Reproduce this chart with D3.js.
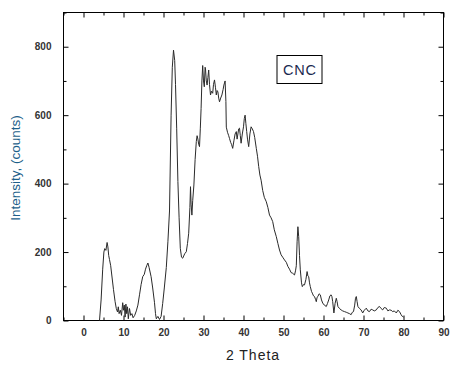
<!DOCTYPE html>
<html>
<head>
<meta charset="utf-8">
<script src="https://cdn.jsdelivr.net/npm/d3@7"></script>
<style>
  html, body { margin: 0; padding: 0; background: #fff; }
  #chart { width: 450px; height: 365px; }
  text { font-family: "Liberation Sans", Arial, sans-serif; }
</style>
</head>
<body>
<div id="chart"></div>
<script>
// XRD pattern
const twoTheta = [4.0,4.4,4.8,5.1,5.3,5.6,5.9,6.1,6.3,6.5,6.8,7.1,7.5,7.9,8.2,8.5,8.7,8.9,9.2,9.5,9.8,10.0,10.2,10.4,10.6,10.8,11.0,11.2,11.5,11.8,12.1,12.4,12.8,13.2,13.6,14.0,14.4,14.8,15.2,15.5,15.8,16.1,16.4,16.9,17.3,17.75,18.0,18.2,18.6,19.0,19.4,19.8,20.2,20.7,21.1,21.5,21.9,22.2,22.5,22.8,23.0,23.3,23.6,23.9,24.2,24.5,24.8,25.3,25.7,26.0,26.3,26.6,26.75,26.9,27.1,27.3,27.6,27.9,28.2,28.4,28.6,28.8,29.0,29.2,29.4,29.6,29.8,30.0,30.2,30.4,30.5,30.7,30.9,31.1,31.3,31.5,31.75,32.0,32.3,32.5,32.75,33.0,33.2,33.4,33.6,33.8,34.0,34.3,34.6,34.9,35.1,35.4,35.6,35.7,36.0,36.3,36.5,36.8,37.0,37.3,37.6,37.9,38.2,38.4,38.6,38.8,39.0,39.2,39.4,39.7,40.0,40.2,40.4,40.6,40.8,41.0,41.3,41.6,41.9,42.2,42.5,42.8,43.2,43.5,43.8,44.1,44.4,44.8,45.2,45.7,46.1,46.5,46.9,47.3,47.7,48.2,48.6,49.0,49.4,49.8,50.25,50.7,51.1,51.5,51.9,52.3,52.75,53.0,53.2,53.4,53.6,53.8,54.0,54.2,54.5,54.7,55.0,55.25,55.6,55.9,56.1,56.3,56.5,56.7,57.0,57.2,57.5,57.75,58.0,58.2,58.4,58.6,58.9,59.2,59.5,59.8,60.2,60.7,61.0,61.3,61.6,61.9,62.1,62.3,62.6,62.9,63.2,63.4,63.6,64.0,64.4,64.8,65.25,65.7,66.1,66.5,66.9,67.2,67.5,67.8,68.0,68.2,68.4,68.6,69.0,69.4,69.8,70.2,70.7,71.1,71.5,71.9,72.3,72.7,73.2,73.6,74.0,74.4,74.8,75.2,75.7,76.1,76.5,76.9,77.3,77.7,78.2,78.6,79.0,79.4,79.7,80.0];
const counts = [0,60,150,200,210,205,228,215,190,178,160,130,90,55,35,25,40,20,30,15,52,30,45,10,48,20,40,5,35,15,20,8,15,28,45,75,105,128,135,150,160,168,155,128,95,52,20,5,12,3,12,50,95,155,230,320,600,740,790,760,690,560,406,300,211,185,182,195,201,225,255,330,391,340,308,350,396,470,523,540,530,515,508,560,620,700,745,700,683,740,735,700,688,710,732,690,659,670,664,690,703,680,659,672,668,650,639,650,659,675,688,700,640,565,550,540,532,520,515,503,525,545,552,530,545,560,562,540,518,545,566,590,600,575,552,530,508,545,566,560,552,535,503,480,450,425,410,380,360,347,330,308,300,289,265,245,225,206,192,185,177,170,158,150,140,138,133,145,160,230,274,245,190,148,110,99,105,104,120,143,130,128,110,99,85,80,72,70,62,55,68,70,78,75,60,51,45,41,50,60,72,75,70,55,22,50,65,55,41,35,31,28,26,24,22,20,17,24,26,45,65,70,55,41,35,31,22,30,36,28,26,33,31,28,31,38,41,35,31,38,36,28,31,30,26,28,22,30,26,17,12,10];

const xMajor = [0,10,20,30,40,50,60,70,80,90];
const xMinor = [-5,5,15,25,35,45,55,65,75,85];
const yMajor = [0,200,400,600,800];
const yMinor = [100,300,500,700,900];

const sampleLabel = 'CNC';
const xTitle = '2 Theta';
const yTitle = 'Intensity, (counts)';

const W = 450, H = 365;
const margin = { top: 12.5, right: 6.5, bottom: 44.5, left: 63.5 };
const width = W - margin.left - margin.right;
const height = H - margin.top - margin.bottom;

const svg = d3.select('#chart').append('svg')
    .attr('width', W)
    .attr('height', H);

const g = svg.append('g')
    .attr('transform', `translate(${margin.left},${margin.top})`);

const x = d3.scaleLinear().domain([-5, 90]).range([0, width]);
const y = d3.scaleLinear().domain([0, 900]).range([height, 0]);

// axes, ticks pointing inside the frame
function styleAxis(sel) {
    sel.select('.domain').remove();
    sel.selectAll('line').attr('stroke', '#000');
    sel.selectAll('text')
        .style('font-size', '10px')
        .style('font-weight', 'bold')
        .attr('fill', '#333');
}

g.append('g')
    .attr('transform', `translate(0,${height})`)
    .call(d3.axisBottom(x).tickValues(xMajor).tickSize(-5).tickPadding(8).tickFormat(d3.format('d')))
    .call(styleAxis);
g.append('g')
    .attr('transform', `translate(0,${height})`)
    .call(d3.axisBottom(x).tickValues(xMinor).tickSize(-3).tickFormat(''))
    .call(styleAxis);
g.append('g')
    .call(d3.axisTop(x).tickValues(xMajor).tickSize(-5).tickFormat(''))
    .call(styleAxis);
g.append('g')
    .call(d3.axisTop(x).tickValues(xMinor).tickSize(-3).tickFormat(''))
    .call(styleAxis);

g.append('g')
    .call(d3.axisLeft(y).tickValues(yMajor).tickSize(-5).tickPadding(12).tickFormat(d3.format('d')))
    .call(styleAxis);
g.append('g')
    .call(d3.axisLeft(y).tickValues(yMinor).tickSize(-3).tickFormat(''))
    .call(styleAxis);
g.append('g')
    .attr('transform', `translate(${width},0)`)
    .call(d3.axisRight(y).tickValues(yMajor).tickSize(-5).tickFormat(''))
    .call(styleAxis);
g.append('g')
    .attr('transform', `translate(${width},0)`)
    .call(d3.axisRight(y).tickValues(yMinor).tickSize(-3).tickFormat(''))
    .call(styleAxis);

// frame
g.append('rect')
    .attr('x', 0).attr('y', 0)
    .attr('width', width).attr('height', height)
    .attr('fill', 'none')
    .attr('stroke', '#000')
    .attr('stroke-width', 1);

// pattern
const pts = twoTheta.map((t, i) => ({ t: t, c: counts[i] }));
const line = d3.line()
    .x(d => x(d.t))
    .y(d => y(d.c));

g.append('path')
    .datum(pts)
    .attr('d', line)
    .attr('fill', 'none')
    .attr('stroke', '#2a2a2a')
    .attr('stroke-width', 1)
    .attr('stroke-linejoin', 'round');

// sample label box
const box = g.append('g').attr('transform', `translate(${277 - margin.left},${55.5 - margin.top})`);
box.append('rect')
    .attr('width', 45).attr('height', 28)
    .attr('fill', '#fff')
    .attr('stroke', '#000');
box.append('text')
    .attr('x', 23).attr('y', 19.5)
    .attr('text-anchor', 'middle')
    .style('font-size', '14.5px')
    .style('letter-spacing', '0.8px')
    .attr('fill', '#1c2a50')
    .text(sampleLabel);

// axis titles
svg.append('text')
    .attr('x', 253)
    .attr('y', 360)
    .attr('text-anchor', 'middle')
    .style('font-size', '14px')
    .style('letter-spacing', '1px')
    .attr('fill', '#222')
    .text(xTitle);

svg.append('text')
    .attr('transform', 'translate(20,168) rotate(-90)')
    .attr('text-anchor', 'middle')
    .style('font-size', '13.5px')
    .attr('fill', '#1d5f8a')
    .text(yTitle);
</script>
</body>
</html>
